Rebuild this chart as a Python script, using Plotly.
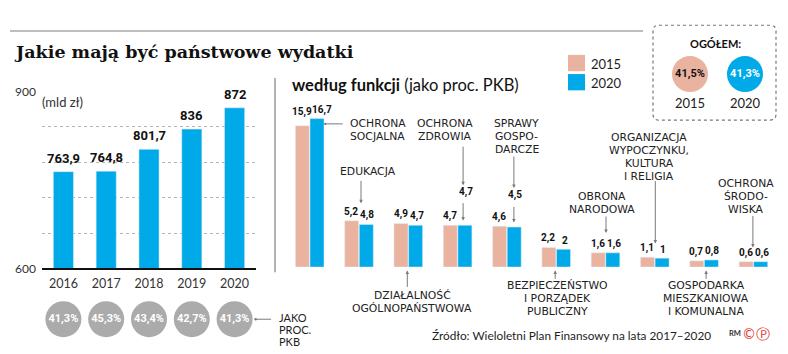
import plotly.graph_objects as go

W, H = 788, 354


def px(x):
    return x / W


def py(y):
    return 1 - y / H


def pl(v):
    return f"{v:g}".replace(".", ",")


# ---------------- data ----------------
years = ["2016", "2017", "2018", "2019", "2020"]
spending_bn = [763.9, 764.8, 801.7, 836, 872]
gdp_share_pct = [41.3, 45.3, 43.4, 42.7, 41.3]

functions = [
    "OCHRONA SOCJALNA",
    "EDUKACJA",
    "DZIAŁALNOŚĆ OGÓLNOPAŃSTWOWA",
    "OCHRONA ZDROWIA",
    "SPRAWY GOSPODARCZE",
    "BEZPIECZEŃSTWO I PORZĄDEK PUBLICZNY",
    "OBRONA NARODOWA",
    "ORGANIZACJA WYPOCZYNKU, KULTURA I RELIGIA",
    "GOSPODARKA MIESZKANIOWA I KOMUNALNA",
    "OCHRONA ŚRODOWISKA",
]
share_2015 = [15.9, 5.2, 4.9, 4.7, 4.6, 2.2, 1.6, 1.1, 0.7, 0.6]
share_2020 = [16.7, 4.8, 4.7, 4.7, 4.5, 2.0, 1.6, 1.0, 0.8, 0.6]

total_years = ["2015", "2020"]
total_share = [41.5, 41.3]

# ---------------- style ----------------
PINK = "#e9b3a0"
BLUE = "#00a9e8"
CIRCLE_GRAY = "#ababab"
TXT = "#1e1e1e"
SANS = "Lato"
CAPS = "DejaVu Sans"
NUM = "Roboto"
LINE_GRAY = "#7a7a7a"

fig = go.Figure()

# left: spending bars
fig.add_trace(go.Bar(x=years, y=spending_bn, marker_color=BLUE, width=0.47, offset=-0.235,
                     xaxis="x", yaxis="y", hoverinfo="skip"))
# left: share of GDP circles
fig.add_trace(go.Scatter(x=years, y=[1] * len(years), xaxis="x", yaxis="y3", mode="markers+text",
                         marker=dict(size=36, color=CIRCLE_GRAY, line=dict(width=0)),
                         text=[f"<b>{pl(v)}%</b>" for v in gdp_share_pct], textposition="middle center",
                         textfont=dict(family=NUM, size=11, color="white"), cliponaxis=False,
                         hoverinfo="skip"))
# right: by function
BW = 0.284
fig.add_trace(go.Bar(x=functions, y=share_2015, marker_color=PINK, width=BW, offset=-0.29,
                     xaxis="x2", yaxis="y2", hoverinfo="skip", name="2015"))
fig.add_trace(go.Bar(x=functions, y=share_2020, marker_color=BLUE, width=BW, offset=0.006,
                     xaxis="x2", yaxis="y2", hoverinfo="skip", name="2020"))
# total circles
fig.add_trace(go.Scatter(x=total_years, y=[1, 1], xaxis="x4", yaxis="y4", mode="markers+text",
                         marker=dict(size=36, color=[PINK, BLUE], line=dict(width=0)),
                         text=[f"<b>{pl(v)}%</b>" for v in total_share], textposition="middle center",
                         textfont=dict(family=NUM, size=11, color=["#111111", "white"]),
                         cliponaxis=False, hoverinfo="skip"))

ann = []
shapes = []


def text(x, y, s, size=12, color=TXT, family=SANS, xanchor="left", xref="paper", xshift=0):
    ann.append(dict(xref=xref, yref="paper", x=x, y=py(y), text=s, showarrow=False,
                    xanchor=xanchor, yanchor="middle", xshift=xshift,
                    font=dict(family=family, size=size, color=color)))


# left value labels (category axis positions given by index, since the year names look numeric)
for idx, v in enumerate(spending_bn):
    ann.append(dict(xref="x", yref="y", x=idx, y=v, text=f"<b>{pl(v)}</b>", showarrow=False,
                    yanchor="bottom", yshift=4, font=dict(family=NUM, size=13, color="#111")))

# right value labels
raise_2015 = {0: 5}
raise_2020 = {3: 24, 4: 23}
xfix_2020 = {0: 4}
for i, (f, a, b) in enumerate(zip(functions, share_2015, share_2020)):
    ann.append(dict(xref="x2", yref="y2", x=f, y=a, text=f"<b>{pl(a)}</b>", showarrow=False,
                    yanchor="bottom", yshift=1 + raise_2015.get(i, 0), xshift=-7.8,
                    font=dict(family=NUM, size=10, color="#111")))
    ann.append(dict(xref="x2", yref="y2", x=f, y=b, text=f"<b>{pl(b)}</b>", showarrow=False,
                    yanchor="bottom", yshift=1 + raise_2020.get(i, 0), xshift=8.3 + xfix_2020.get(i, 0),
                    font=dict(family=NUM, size=10, color="#111")))

# category labels: (index, lines, dx, first line y, anchor)
LS = 13.5
cat_labels = [
    (0, ["OCHRONA", "SOCJALNA"], 38.5, 121, "left"),
    (1, ["EDUKACJA"], 9, 171, "center"),
    (2, ["DZIAŁALNOŚĆ", "OGÓLNOPAŃSTWOWA"], 4, 300, "center"),
    (3, ["OCHRONA", "ZDROWIA"], -12.5, 121, "center"),
    (4, ["SPRAWY", "GOSPO-", "DARCZE"], 10, 121, "center"),
    (5, ["BEZPIECZEŃSTWO", "I PORZĄDEK", "PUBLICZNY"], 1, 290, "center"),
    (6, ["OBRONA", "NARODOWA"], -3.5, 197, "center"),
    (7, ["ORGANIZACJA", "WYPOCZYNKU,", "KULTURA", "I RELIGIA"], -5.5, 135, "center"),
    (8, ["GOSPODARKA", "MIESZKANIOWA", "I KOMUNALNA"], 2, 290, "center"),
    (9, ["OCHRONA", "ŚRODO-", "WISKA"], -7.5, 183, "center"),
]
for i, lines, dx, y0, anc in cat_labels:
    for k, line in enumerate(lines):
        text(functions[i], y0 + k * LS, line, size=10.8, xanchor=anc, xref="x2", xshift=dx,
             family=CAPS, color="#222")

# connectors: (index, dx, head y, tail dx, tail dy, head style)
connectors = [
    (0, 15.5, 121, 19, 0, 6),
    (1, 2, 204, 0, -24, 2),
    (2, -1, 274, 0, 18, 2),
    (3, 5.5, 185, 0, -40, 2),
    (3, 5.5, 222, 0, -19, 2),
    (4, 7, 188, 0, -33, 2),
    (4, 7, 224, 0, -17, 2),
    (5, -1, 274, 0, 10, 2),
    (6, 0.5, 235, 0, -18, 2),
    (7, 0.5, 246, 0, -64, 2),
    (8, 2, 274, 0, 10, 2),
    (9, -0.5, 250, 0, -33, 2),
]
for i, dx, hy, tdx, tdy, head in connectors:
    ann.append(dict(xref="x2", yref="paper", x=functions[i], y=py(hy), xshift=dx, text="",
                    showarrow=True, arrowhead=head, arrowsize=0.7 if head == 2 else 0.6,
                    arrowwidth=1, arrowcolor=LINE_GRAY, ax=tdx, ay=tdy, standoff=0))

# pointer to "JAKO PROC. PKB"
ann.append(dict(xref="x", yref="y3", x=len(years) - 1, y=1, xshift=21, text="", showarrow=True,
                arrowhead=6, arrowsize=0.6, arrowwidth=1, arrowcolor=LINE_GRAY, ax=17, ay=0))
for k, line in enumerate(["JAKO", "PROC.", "PKB"]):
    text(px(277), 323.5 + k * 12.5, line, size=11)

# titles and texts
text(px(12), 46, "<b>Jakie mają być państwowe wydatki</b>", size=17.5, color="#111", family="DejaVu Serif")
text(px(40), 98, "(mld zł)", size=13, color="#333")
text(px(290), 80, "<b>według funkcji</b> (jako proc. PKB)", size=16.5, color="#111")
text(px(589), 58, "2015", size=13)
text(px(589), 78, "2020", size=13)
text(px(715), 37, "<b>OGÓŁEM:</b>", size=11, xanchor="center", color="#111")
text(px(430), 342, "Źródło: Wieloletni Plan Finansowy na lata 2017–2020", size=11.8)
text(px(727), 340, "<b>RM</b>", size=7.5, color="#333")
text(px(740), 340, "©Ⓟ", size=14, color="#e2342a", family="DejaVu Sans")

# decorations
shapes.append(dict(type="line", xref="paper", yref="paper", x0=px(10), x1=px(643), y0=py(24), y1=py(24),
                   line=dict(color="#bdbdbd", width=2)))
shapes.append(dict(type="line", xref="paper", yref="paper", x0=px(275), x1=px(275), y0=py(73), y1=py(276),
                   line=dict(color="#9a9a9a", width=1.5)))
shapes.append(dict(type="rect", xref="paper", yref="paper", x0=px(568), x1=px(585), y0=py(66), y1=py(49),
                   fillcolor=PINK, line=dict(width=0)))
shapes.append(dict(type="rect", xref="paper", yref="paper", x0=px(568), x1=px(585), y0=py(86), y1=py(69),
                   fillcolor=BLUE, line=dict(width=0)))


def rounded(x0, y0, x1, y1, r):
    X = lambda v: f"{px(v):.5f}"
    Y = lambda v: f"{py(v):.5f}"
    return (f"M {X(x0 + r)},{Y(y0)} L {X(x1 - r)},{Y(y0)} Q {X(x1)},{Y(y0)} {X(x1)},{Y(y0 + r)} "
            f"L {X(x1)},{Y(y1 - r)} Q {X(x1)},{Y(y1)} {X(x1 - r)},{Y(y1)} "
            f"L {X(x0 + r)},{Y(y1)} Q {X(x0)},{Y(y1)} {X(x0)},{Y(y1 - r)} "
            f"L {X(x0)},{Y(y0 + r)} Q {X(x0)},{Y(y0)} {X(x0 + r)},{Y(y0)} Z")


shapes.append(dict(type="path", xref="paper", yref="paper", path=rounded(653, 18, 776, 117, 6),
                   line=dict(color="#777", width=1.2, dash="dot")))

fig.update_layout(
    width=W, height=H, margin=dict(l=0, r=0, t=0, b=0),
    paper_bgcolor="white", plot_bgcolor="white", showlegend=False,
    barmode="overlay", font=dict(family=SANS, color=TXT),
    xaxis=dict(type="category", domain=[px(42), px(256)], anchor="y", range=[-0.5, 4.5], showline=True,
               linecolor="#111", linewidth=2, ticks="", showgrid=False, tickfont=dict(size=12.5, color="#333"),
               ticklabelstandoff=3, fixedrange=True),
    yaxis=dict(domain=[py(272), py(87)], anchor="x", range=[600, 900],
               tickvals=[600, 660, 720, 780, 840, 900], ticktext=["600", "", "", "", "", "900"],
               showgrid=True, gridcolor="#b5b5b5", griddash="dot", gridwidth=1, zeroline=False, ticks="",
               tickfont=dict(size=12, color="#333"), ticklabelstandoff=5, fixedrange=True),
    xaxis2=dict(type="category", domain=[px(285.05), px(778.05)], anchor="y2", range=[-0.5, 9.5],
                visible=False),
    yaxis2=dict(domain=[py(270.5), py(78)], anchor="x2", range=[0, 192.5 / 9.28], visible=False),
    yaxis3=dict(domain=[py(345), py(305)], anchor="x", range=[0, 2], visible=False),
    xaxis4=dict(type="category", domain=[px(662.5), px(772.5)], anchor="y4", range=[-0.5, 1.5],
                showline=False, ticks="", showgrid=False, zeroline=False,
                tickfont=dict(size=13, color="#222"), ticklabelstandoff=2),
    yaxis4=dict(domain=[py(88), py(50)], anchor="x4", range=[0, 2], visible=False),
    annotations=ann, shapes=shapes,
)

fig.write_html("out.html")
